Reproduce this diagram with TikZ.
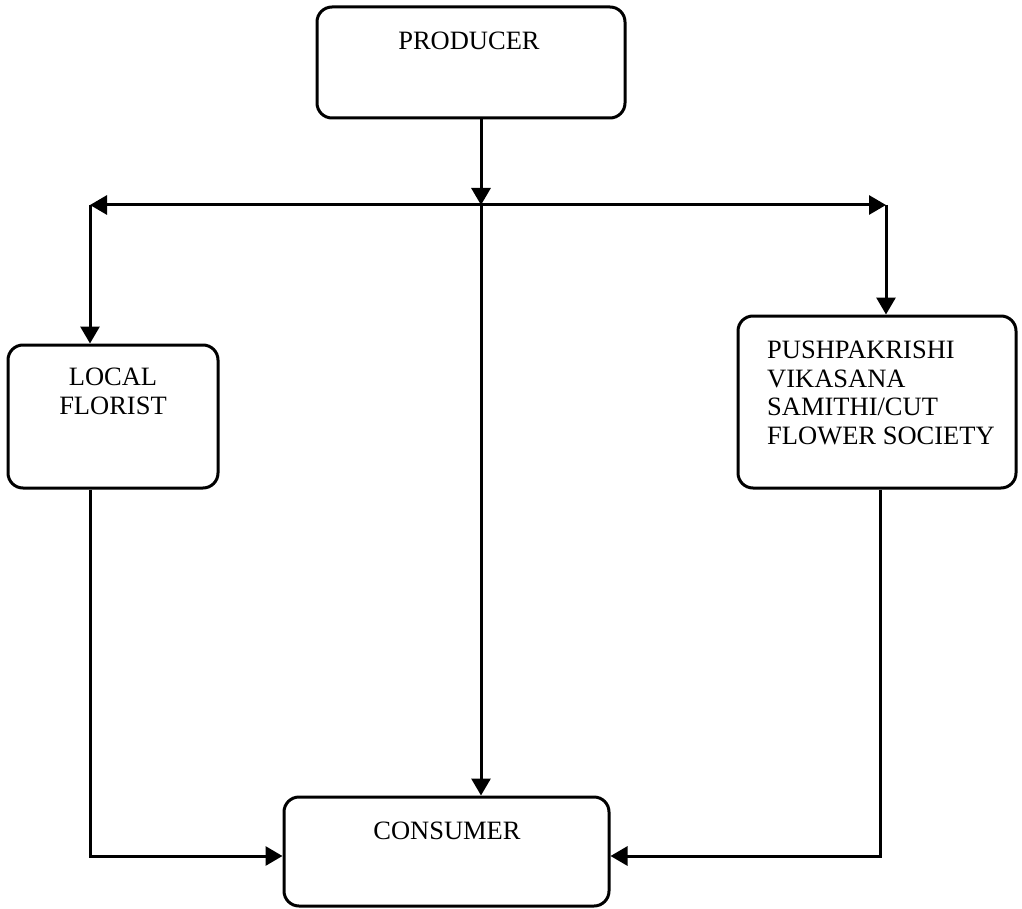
\documentclass[tikz,border=0pt]{standalone}
\usepackage{fontspec}
\setmainfont{Liberation Serif}
\usetikzlibrary{arrows.meta}
\begin{document}
\begin{tikzpicture}[x=1pt,y=-1pt,
  box/.style={draw, line width=3pt, rounded corners=15pt, inner sep=0pt},
  lbl/.style={inner sep=0pt, font=\fontsize{26.5}{28.5}\selectfont},
  flow/.style={line width=3pt, -{Triangle[length=17pt,width=19pt]}},
  both/.style={line width=3pt, {Triangle[length=17pt,width=19pt]}-{Triangle[length=17pt,width=19pt]}},
]
\useasboundingbox (0,0) rectangle (1022,909);

% boxes
\node[box, minimum width=308pt, minimum height=111pt] (prod) at (471,62.5) {};
\node[box, minimum width=210pt, minimum height=143pt] (lf) at (113,416.5) {};
\node[box, minimum width=278pt, minimum height=172pt] (pvs) at (877,402) {};
\node[box, minimum width=325pt, minimum height=109pt] (con) at (446.5,851.5) {};

% labels
\node[lbl, anchor=north] (prodtxt) at (469,32) {PRODUCER};
\node[lbl, anchor=north, align=center] (lftxt) at (113,368) {LOCAL\\FLORIST};
\node[lbl, anchor=north west, align=left] (pvstxt) at (767,341)
  {PUSHPAKRISHI\\VIKASANA\\SAMITHI/CUT\\FLOWER SOCIETY};
\node[lbl, anchor=north] (context) at (447,822) {CONSUMER};

% junction points
\coordinate (hub) at (481,205);
\coordinate (lt) at (90,205);
\coordinate (rt) at (886,205);
\coordinate (rb) at (880,856);

% connectors
\draw[flow] (prod.south -| hub) -- (hub);
\draw[both] (lt) -- (rt);
\draw[flow] (lt) -- (lt |- lf.north);
\draw[flow] (rt) -- (rt |- pvs.north);
\draw[flow] (hub) -- (hub |- con.north);
\draw[flow] (lf.south -| lt) |- ([yshift=-4.5pt]con.west);
\draw[flow] (pvs.south -| rb) |- ([yshift=-4.5pt]con.east);
\end{tikzpicture}
\end{document}
